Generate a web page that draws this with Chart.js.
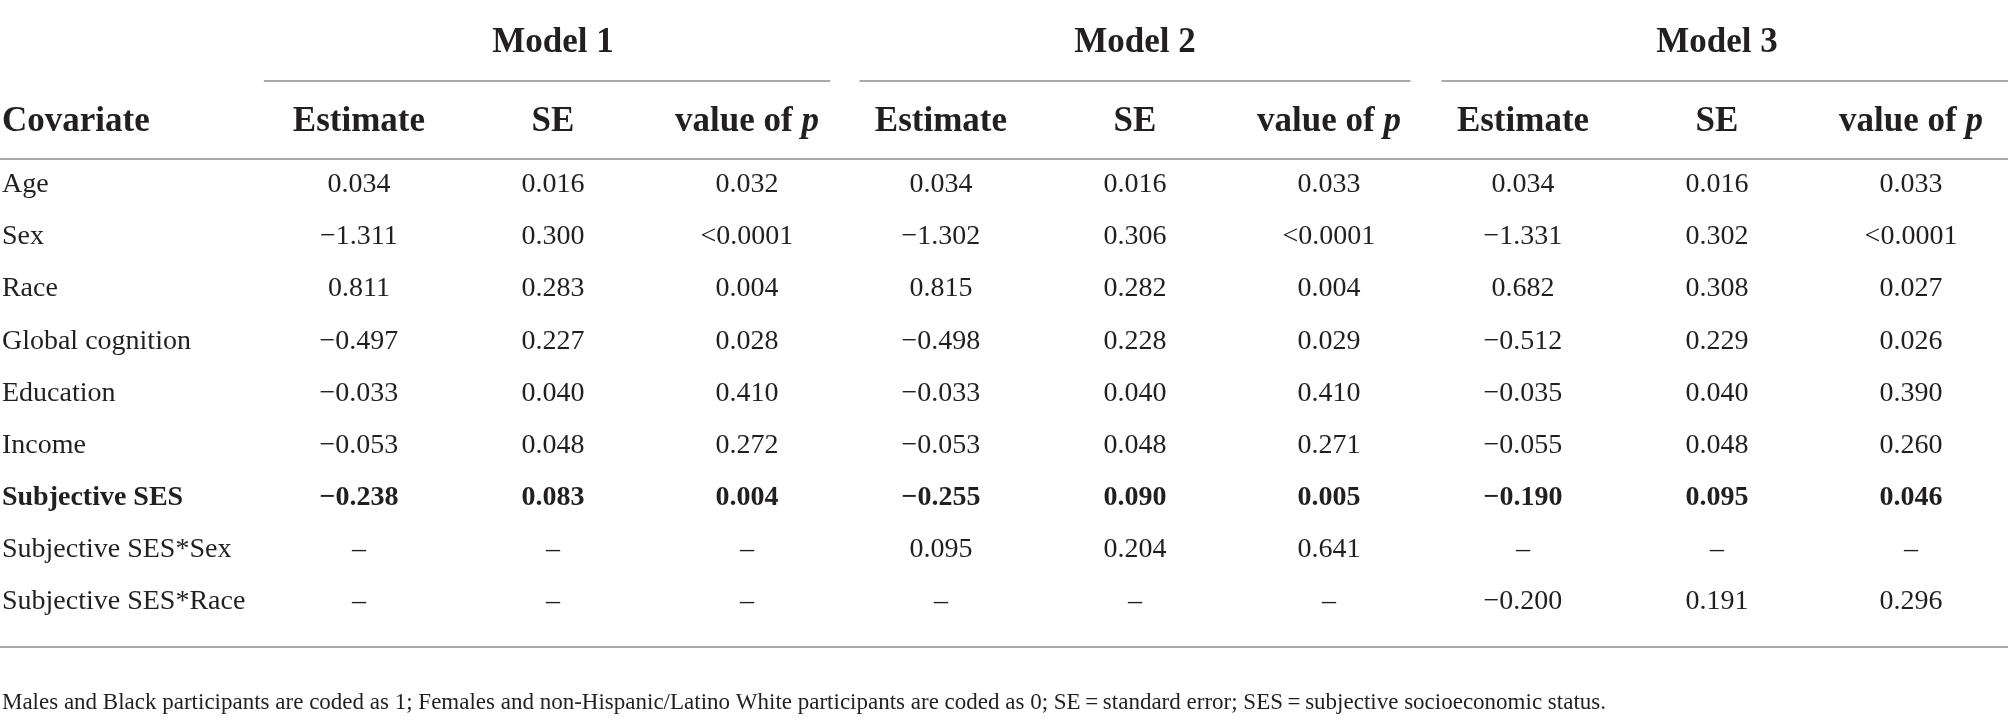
<!DOCTYPE html>
<html>
<head>
<meta charset="utf-8">
<script src="https://cdn.jsdelivr.net/npm/chart.js@4.4.1/dist/chart.umd.min.js"></script>
<style>
  html, body { margin: 0; padding: 0; background: #ffffff; }
  #wrap { width: 2008px; height: 724px; }
</style>
</head>
<body>
<div id="wrap"><canvas id="c" width="2008" height="724"></canvas></div>
<script>
// ---- data ----
const covariates = ['Age', 'Sex', 'Race', 'Global cognition', 'Education', 'Income', 'Subjective SES', 'Subjective SES*Sex', 'Subjective SES*Race'];
const boldRows = ['Subjective SES'];
const models = ['Model 1', 'Model 2', 'Model 3'];
const columnHeaders = ['Estimate', 'SE', 'value of p'];
const firstHeader = 'Covariate';

const m1Estimate = ['0.034', '\u22121.311', '0.811', '\u22120.497', '\u22120.033', '\u22120.053', '\u22120.238', '\u2013', '\u2013'];
const m1SE       = ['0.016', '0.300', '0.283', '0.227', '0.040', '0.048', '0.083', '\u2013', '\u2013'];
const m1P        = ['0.032', '<0.0001', '0.004', '0.028', '0.410', '0.272', '0.004', '\u2013', '\u2013'];

const m2Estimate = ['0.034', '\u22121.302', '0.815', '\u22120.498', '\u22120.033', '\u22120.053', '\u22120.255', '0.095', '\u2013'];
const m2SE       = ['0.016', '0.306', '0.282', '0.228', '0.040', '0.048', '0.090', '0.204', '\u2013'];
const m2P        = ['0.033', '<0.0001', '0.004', '0.029', '0.410', '0.271', '0.005', '0.641', '\u2013'];

const m3Estimate = ['0.034', '\u22121.331', '0.682', '\u22120.512', '\u22120.035', '\u22120.055', '\u22120.190', '\u2013', '\u22120.200'];
const m3SE       = ['0.016', '0.302', '0.308', '0.229', '0.040', '0.048', '0.095', '\u2013', '0.191'];
const m3P        = ['0.033', '<0.0001', '0.027', '0.026', '0.390', '0.260', '0.046', '\u2013', '0.296'];

const footnote = 'Males and Black participants are coded as 1; Females and non-Hispanic/Latino White participants are coded as 0; SE\u2009=\u2009standard error; SES\u2009=\u2009subjective socioeconomic status.';

// ---- build table for the library ----
const columns = [m1Estimate, m1SE, m1P, m2Estimate, m2SE, m2P, m3Estimate, m3SE, m3P];
const datasets = columns.map((col, ci) => ({
  label: models[Math.floor(ci / 3)] + ' ' + columnHeaders[ci % 3],
  data: col.map((v, ri) => ({ x: ci + 1, y: ri, text: v })),
  pointRadius: 0,
  showLine: false
}));
// label column (covariate names) as its own dataset
datasets.unshift({
  label: firstHeader,
  data: covariates.map((v, ri) => ({ x: -0.84, y: ri, text: v })),
  pointRadius: 0,
  showLine: false
});

// row positions (in row units) for header elements
const ROW_TITLE = -2.72, ROW_GROUPLINE = -2.0, ROW_HEAD = -1.2, ROW_HEADLINE = -0.5, ROW_BOTTOMLINE = 8.87, ROW_FOOT = 9.95;
const GROUP_LINE_START = [-0.49, -0.42, -0.42];
const GROUP_LINE_END = [0.43, 0.42, 0.7];

const SERIF = '"Liberation Serif", "DejaVu Serif", serif';
const TEXT = '#231f20';
const RULE = '#a7a9ac';
const HEAD_FONT = '35px ';
const BODY_FONT = '28px ';
const FOOT_FONT = '23px ';

const tablePlugin = {
  id: 'tableText',
  afterDraw(chart) {
    const ctx = chart.ctx;
    const xs = chart.scales.x, ys = chart.scales.y;
    const area = chart.chartArea;
    ctx.save();
    ctx.fillStyle = TEXT;
    ctx.textBaseline = 'middle';

    // model titles and group rules
    models.forEach((m, gi) => {
      const c0 = gi * 3 + 1, c1 = gi * 3 + 3;
      ctx.font = 'bold ' + HEAD_FONT + SERIF;
      ctx.textAlign = 'center';
      ctx.fillText(m, xs.getPixelForValue((c0 + c1) / 2), ys.getPixelForValue(ROW_TITLE));
      const xa = Math.max(area.left, xs.getPixelForValue(c0 + GROUP_LINE_START[gi]));
      const xb = Math.min(area.right, xs.getPixelForValue(c1 + GROUP_LINE_END[gi]));
      ctx.strokeStyle = RULE;
      ctx.lineWidth = 2;
      ctx.beginPath();
      const yl = Math.round(ys.getPixelForValue(ROW_GROUPLINE));
      ctx.moveTo(xa, yl); ctx.lineTo(xb, yl);
      ctx.stroke();
    });

    // column header row
    const yh = ys.getPixelForValue(ROW_HEAD);
    ctx.font = 'bold ' + HEAD_FONT + SERIF;
    ctx.textAlign = 'left';
    ctx.fillText(firstHeader, xs.getPixelForValue(-0.84), yh);
    for (let ci = 0; ci < 9; ci++) {
      const h = columnHeaders[ci % 3];
      const cx = xs.getPixelForValue(ci + 1);
      if (h === 'value of p') {
        ctx.font = 'bold ' + HEAD_FONT + SERIF;
        const a = 'value of ';
        const wa = ctx.measureText(a).width;
        ctx.font = 'bold italic ' + HEAD_FONT + SERIF;
        const wb = ctx.measureText('p').width;
        const x0 = cx - (wa + wb) / 2;
        ctx.textAlign = 'left';
        ctx.font = 'bold ' + HEAD_FONT + SERIF;
        ctx.fillText(a, x0, yh);
        ctx.font = 'bold italic ' + HEAD_FONT + SERIF;
        ctx.fillText('p', x0 + wa, yh);
      } else {
        ctx.font = 'bold ' + HEAD_FONT + SERIF;
        ctx.textAlign = 'center';
        ctx.fillText(h, cx, yh);
      }
    }

    // full-width rules
    ctx.strokeStyle = RULE;
    ctx.lineWidth = 2;
    [ROW_HEADLINE, ROW_BOTTOMLINE].forEach(r => {
      const y = Math.round(ys.getPixelForValue(r));
      ctx.beginPath();
      ctx.moveTo(area.left, y); ctx.lineTo(area.right, y);
      ctx.stroke();
    });

    // body cells from dataset elements
    chart.data.datasets.forEach((ds, di) => {
      const meta = chart.getDatasetMeta(di);
      meta.data.forEach((pt, ri) => {
        const raw = ds.data[ri];
        const bold = boldRows.includes(covariates[raw.y]);
        ctx.font = (bold ? 'bold ' : '') + BODY_FONT + SERIF;
        ctx.textAlign = di === 0 ? 'left' : 'center';
        ctx.fillText(raw.text, pt.x, pt.y);
      });
    });

    // footnote
    ctx.font = FOOT_FONT + SERIF;
    ctx.textAlign = 'left';
    ctx.fillText(footnote, xs.getPixelForValue(-0.84), ys.getPixelForValue(ROW_FOOT));
    ctx.restore();
  }
};

new Chart(document.getElementById('c'), {
  type: 'scatter',
  data: { datasets },
  options: {
    responsive: false,
    devicePixelRatio: 1,
    animation: false,
    layout: { padding: 0 },
    plugins: { legend: { display: false }, tooltip: { enabled: false }, title: { display: false } },
    scales: {
      x: { type: 'linear', min: -0.85, max: 9.5, display: false },
      y: { type: 'linear', min: -3.55, max: 10.35, reverse: true, display: false }
    }
  },
  plugins: [tablePlugin]
});
</script>
</body>
</html>
